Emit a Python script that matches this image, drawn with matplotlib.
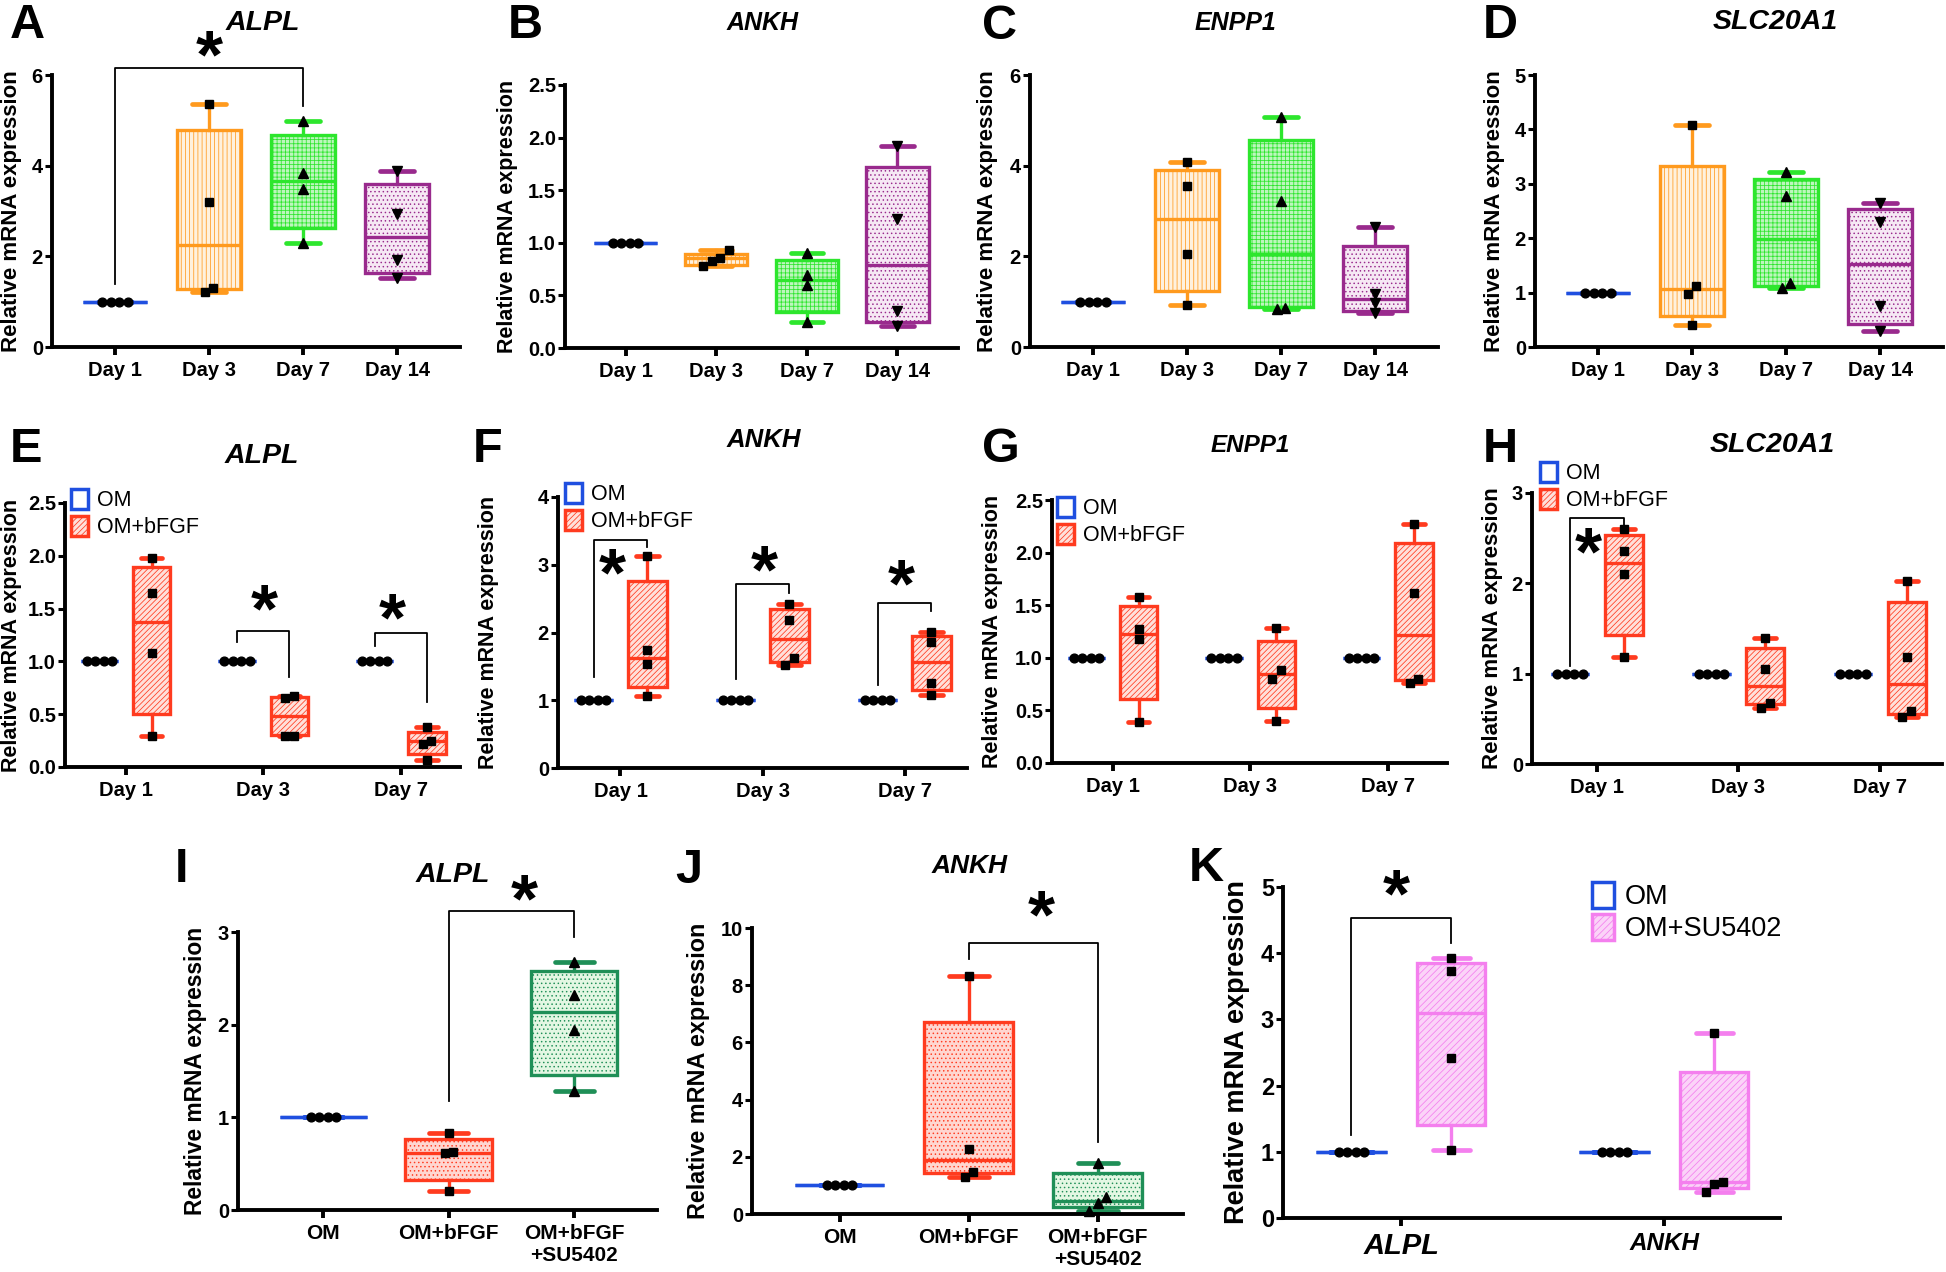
import numpy as np
import matplotlib.pyplot as plt
from matplotlib.patches import Patch

W, H = 1946, 1272

plt.rcParams['font.family'] = ['Liberation Sans', 'DejaVu Sans']
plt.rcParams['hatch.linewidth'] = 0.55

BLUE = '#1f4fe0'
ORANGE = '#ff9a1e'
LIME = '#2de62d'
PURPLE = '#992a8d'
RED = '#ff3b1f'
DKGREEN = '#1f8f57'
PINK = '#f47fee'

# (edge colour, face colour, hatch, marker)
OM_STYLE = (BLUE, 'white', None, 'o')
TC_STYLES = [OM_STYLE,
             (ORANGE, '#fff1de', '||||', 's'),
             (LIME, '#bdf6bd', '++++', '^'),
             (PURPLE, '#f6e8f4', '....', 'v')]
RED_STYLE = (RED, '#ffe0da', '//////', 's')
RED_DOT = (RED, '#ffd6d0', '....', 's')
SU_STYLE = (DKGREEN, '#e3f7e3', '....', '^')
PINK_STYLE = (PINK, '#fbd3f8', '/////', 's')

# ---- data ----
days4 = ['Day 1', 'Day 3', 'Day 7', 'Day 14']
days3 = ['Day 1', 'Day 3', 'Day 7']
treatments = ['OM', 'OM+bFGF', 'OM+bFGF\n+SU5402']
genes = ['ALPL', 'ANKH']

om = [1.0, 1.0, 1.0, 1.0]

# boxes are (q1, median, q3); whiskers run min..max of the points
A_pts = [om, [5.35, 3.20, 1.31, 1.21], [4.99, 3.83, 3.48, 2.30], [3.88, 2.93, 1.93, 1.52]]
A_box = [(1, 1, 1), (1.27, 2.26, 4.79), (2.63, 3.66, 4.68), (1.63, 2.42, 3.59)]
B_pts = [om, [0.93, 0.86, 0.83, 0.78], [0.90, 0.69, 0.60, 0.25], [1.92, 1.23, 0.35, 0.21]]
B_box = [(1, 1, 1), (0.79, 0.86, 0.89), (0.34, 0.65, 0.84), (0.25, 0.79, 1.72)]
C_pts = [om, [4.07, 3.55, 2.06, 0.92], [5.07, 3.22, 0.87, 0.83], [2.65, 1.18, 0.96, 0.74]]
C_box = [(1, 1, 1), (1.24, 2.82, 3.90), (0.88, 2.05, 4.57), (0.80, 1.05, 2.23)]
D_pts = [om, [4.08, 1.12, 0.97, 0.40], [3.22, 2.77, 1.17, 1.09], [2.64, 2.30, 0.75, 0.29]]
D_box = [(1, 1, 1), (0.57, 1.06, 3.33), (1.13, 1.98, 3.09), (0.42, 1.52, 2.53)]

# OM+bFGF per day (OM is 1 at every day)
E_pts = [[1.98, 1.65, 1.08, 0.29], [0.67, 0.65, 0.29, 0.29], [0.38, 0.25, 0.22, 0.07]]
E_box = [(0.50, 1.37, 1.89), (0.30, 0.48, 0.66), (0.126, 0.25, 0.33)]
F_pts = [[3.13, 1.74, 1.54, 1.06], [2.42, 2.19, 1.63, 1.52], [2.01, 1.86, 1.25, 1.08]]
F_box = [(1.20, 1.62, 2.76), (1.57, 1.90, 2.34), (1.15, 1.56, 1.95)]
G_pts = [[1.58, 1.27, 1.18, 0.39], [1.28, 0.88, 0.80, 0.40], [2.27, 1.62, 0.80, 0.76]]
G_box = [(0.61, 1.23, 1.49), (0.52, 0.85, 1.16), (0.785, 1.22, 2.09)]
H_pts = [[2.60, 2.36, 2.10, 1.18], [1.39, 1.05, 0.675, 0.62], [2.03, 1.18, 0.59, 0.52]]
H_box = [(1.43, 2.23, 2.53), (0.66, 0.86, 1.28), (0.55, 0.885, 1.79)]

I_pts = [om, [0.83, 0.63, 0.61, 0.20], [2.68, 2.32, 1.94, 1.28]]
I_box = [(1, 1, 1), (0.32, 0.62, 0.77), (1.46, 2.14, 2.58)]
J_pts = [om, [8.31, 2.28, 1.48, 1.31], [1.77, 0.61, 0.37, 0.12]]
J_box = [(1, 1, 1), (1.42, 1.89, 6.73), (0.26, 0.47, 1.42)]
K_pts = [[3.93, 3.73, 2.42, 1.03], [2.79, 0.55, 0.52, 0.40]]
K_box = [(1.41, 3.09, 3.85), (0.45, 0.55, 2.20)]

# significance: (x left, y left, x right, y right, bracket top, star x, star y)
A_sig = [(0, 1.40, 2, 5.32, 6.15, 1.0, 6.66)]
E_sig = [(0.81, 1.18, 1.19, 0.85, 1.285, 1.01, 1.59),
         (1.81, 1.15, 2.19, 0.615, 1.27, 1.94, 1.50)]
F_sig = [(-0.19, 1.35, 0.19, 3.26, 3.37, -0.06, 3.02),
         (0.81, 1.31, 1.19, 2.59, 2.71, 1.01, 3.07),
         (1.81, 1.23, 2.19, 2.32, 2.44, 1.98, 2.86)]
H_sig = [(-0.19, 1.09, 0.19, 2.64, 2.72, -0.06, 2.45)]
I_sig = [(1, 1.18, 2, 2.95, 3.23, 1.60, 3.46)]
J_sig = [(1, 8.9, 2, 2.53, 9.47, 1.56, 10.8)]
K_sig = [(-0.19, 1.26, 0.19, 4.15, 4.53, -0.02, 5.04)]


fig = plt.figure(figsize=(W / 100, H / 100), dpi=100)


def add_axes(l, t, r, b):
    return fig.add_axes([l / W, 1 - b / H, (r - l) / W, (b - t) / H])


def px_scale(ax):
    pos = ax.get_position()
    x0, x1 = ax.get_xlim()
    y0, y1 = ax.get_ylim()
    return pos.width * W / (x1 - x0), pos.height * H / (y1 - y0)


def spread(ax, x, vals, step=8.5):
    # spread overlapping points sideways like the original plot
    sx, sy = px_scale(ax)
    vals = np.asarray(vals, float)
    order = np.argsort(vals)
    xs = np.full(len(vals), float(x))
    clusters = [[order[0]]]
    for i in order[1:]:
        if (vals[i] - vals[clusters[-1][-1]]) * sy < step:
            clusters[-1].append(i)
        else:
            clusters.append([i])
    for c in clusters:
        n = len(c)
        for k, i in enumerate(c):
            xs[i] = x + (k - (n - 1) / 2) * step / sx
    return xs


def draw_box(ax, x, pts, box, style, width, capfrac, ms=6.3):
    color, face, hatch, marker = style
    stat = dict(whislo=min(pts), q1=box[0], med=box[1], q3=box[2], whishi=max(pts))
    lw = 2.4
    ax.bxp([stat], positions=[x], widths=width, capwidths=width * capfrac,
           patch_artist=True, showfliers=False, manage_ticks=False,
           boxprops=dict(facecolor=face, edgecolor=color, hatch=hatch, linewidth=lw),
           medianprops=dict(color=color, linewidth=lw),
           whiskerprops=dict(color=color, linewidth=lw),
           capprops=dict(color=color, linewidth=lw + 1, solid_capstyle='round'))
    if marker in '^v':
        ms += 0.8
    ax.plot(spread(ax, x, pts), pts, ls='none', marker=marker, color='black',
            ms=ms, zorder=5, clip_on=False)


def setup(ax, ymax, ystep, fmt, xlim, ticks, labels, xfs=14.5, yfs=14.5,
          lab_fs=15.5, lab_gap=30):
    ax.set_xlim(xlim)
    ax.set_ylim(0, ymax)
    ax.spines[['top', 'right']].set_visible(False)
    ax.spines[['left', 'bottom']].set_linewidth(2.8)
    yt = np.arange(0, ymax + ystep / 2, ystep)
    ax.set_yticks(yt, [fmt.format(v) for v in yt], fontsize=yfs, fontweight='bold')
    ax.set_xticks(ticks, labels, fontsize=xfs, fontweight='bold')
    ax.tick_params(axis='y', length=5, width=2.2, pad=1.5)
    ax.tick_params(axis='x', length=6, width=2.8, pad=4)
    ax.set_ylabel('Relative mRNA expression', fontsize=lab_fs, fontweight='bold')
    ax.yaxis.set_label_coords(-lab_gap / (ax.get_position().width * W), 0.5)
    ax.patch.set_alpha(0)


def brackets(ax, sigs, fs=50):
    for xl, yl, xr, yr, top, sx, sy in sigs:
        ax.plot([xl, xl, xr, xr], [yl, top, top, yr], color='black', lw=1.3,
                clip_on=False)
        ax.annotate('*', (sx, sy), xytext=(0, -0.46 * fs), textcoords='offset points',
                    ha='center', va='baseline', fontsize=fs, fontweight='bold',
                    annotation_clip=False)


def legend(labels, styles, left, top, fs=15.5, hl=0.8, hh=1.05, sp=0.2):
    handles = [Patch(facecolor=f, edgecolor=c, hatch=h, linewidth=2.5)
               for c, f, h, m in styles]
    fig.legend(handles, labels, loc='upper left', bbox_to_anchor=(left / W, 1 - top / H),
               frameon=False, fontsize=fs, handlelength=hl, handleheight=hh,
               handletextpad=0.4, labelspacing=sp, borderpad=0, borderaxespad=0)


def time_course(rect, pts, boxes, ymax, ystep, fmt, lab_fs, lab_gap):
    ax = add_axes(*rect)
    setup(ax, ymax, ystep, fmt, (-0.67, 3.67), range(4), days4,
          lab_fs=lab_fs, lab_gap=lab_gap)
    for i, (p, b, st) in enumerate(zip(pts, boxes, TC_STYLES)):
        draw_box(ax, i, p, b, st, 0.69, 0.52)
    return ax


def bfgf_panel(rect, pts, boxes, ymax, ystep, fmt, xlim, lab_fs, lab_gap):
    ax = add_axes(*rect)
    setup(ax, ymax, ystep, fmt, xlim, range(3), days3, lab_fs=lab_fs, lab_gap=lab_gap)
    for d, (p, b) in enumerate(zip(pts, boxes)):
        draw_box(ax, d - 0.19, om, (1, 1, 1), OM_STYLE, 0.27, 0.6)
        draw_box(ax, d + 0.19, p, b, RED_STYLE, 0.27, 0.58)
    return ax


# ---- row 1: time course ----
axA = time_course((52, 75, 460, 347), A_pts, A_box, 6, 2, '{:.0f}', 16, 30)
brackets(axA, A_sig)
time_course((565, 85, 958, 348), B_pts, B_box, 2.5, 0.5, '{:.1f}', 15.5, 47)
time_course((1030, 75, 1438, 347), C_pts, C_box, 6, 2, '{:.0f}', 16, 32)
time_course((1535, 75, 1943, 347), D_pts, D_box, 5, 1, '{:.0f}', 16, 30)

# ---- row 2: OM vs OM+bFGF ----
axE = bfgf_panel((65, 503, 460, 767), E_pts, E_box, 2.5, 0.5, '{:.1f}', (-0.44, 2.43), 15.5, 43)
brackets(axE, E_sig)
axF = bfgf_panel((558, 497, 967, 768), F_pts, F_box, 4, 1, '{:.0f}', (-0.44, 2.44), 15.5, 59)
brackets(axF, F_sig)
bfgf_panel((1052, 500, 1447, 763), G_pts, G_box, 2.5, 0.5, '{:.1f}', (-0.44, 2.43), 15.5, 49)
axH = bfgf_panel((1532, 493, 1942, 764), H_pts, H_box, 3, 1, '{:.0f}', (-0.46, 2.44), 16, 29)
brackets(axH, H_sig)

bfgf_labels = ['OM', 'OM+bFGF']
legend(bfgf_labels, [OM_STYLE, RED_STYLE], 71, 489)
legend(bfgf_labels, [OM_STYLE, RED_STYLE], 565, 483)
legend(bfgf_labels, [OM_STYLE, RED_STYLE], 1057, 497)
legend(bfgf_labels, [OM_STYLE, RED_STYLE], 1540, 462)

# ---- row 3 ----
su_styles = [OM_STYLE, RED_DOT, SU_STYLE]
axI = add_axes(238, 932, 657, 1210)
setup(axI, 3, 1, '{:.0f}', (-0.68, 2.66), range(3), treatments, xfs=15,
      lab_fs=16.4, lab_gap=31)
for i, (p, b, st) in enumerate(zip(I_pts, I_box, su_styles)):
    draw_box(axI, i, p, b, st, 0.69, 0.45)
brackets(axI, I_sig)

axJ = add_axes(752, 928, 1183, 1214)
setup(axJ, 10, 2, '{:.0f}', (-0.68, 2.66), range(3), treatments, xfs=15,
      lab_fs=16.8, lab_gap=42)
for i, (p, b, st) in enumerate(zip(J_pts, J_box, su_styles)):
    draw_box(axJ, i, p, b, st, 0.69, 0.45)
brackets(axJ, J_sig)

axK = add_axes(1283, 887, 1780, 1218)
setup(axK, 5, 1, '{:.0f}', (-0.45, 1.44), range(2), genes, yfs=17,
      lab_fs=19.5, lab_gap=33)
for lbl, fs in zip(axK.get_xticklabels(), [21, 17.5]):
    lbl.set_fontsize(fs)
    lbl.set_fontstyle('italic')
for g, (p, b) in enumerate(zip(K_pts, K_box)):
    draw_box(axK, g - 0.19, om, (1, 1, 1), OM_STYLE, 0.27, 0.6)
    draw_box(axK, g + 0.19, p, b, PINK_STYLE, 0.26, 0.54)
brackets(axK, K_sig)
legend(['OM', 'OM+SU5402'], [OM_STYLE, PINK_STYLE], 1592, 882, fs=19.5, hl=0.8,
       hh=1.1, sp=0.15)

# ---- panel letters and gene titles ----
letters = [('A', 10, 38), ('B', 508, 38), ('C', 982, 39), ('D', 1483, 38),
           ('E', 10, 462), ('F', 473, 462), ('G', 982, 462), ('H', 1483, 462),
           ('I', 175, 882), ('J', 675, 883), ('K', 1189, 881)]
for s, x, y in letters:
    fig.text(x / W, 1 - y / H, s, ha='left', va='baseline', fontsize=35,
             fontweight='bold')

titles = [('ALPL', 263, 30, 20.5), ('ANKH', 763, 30, 18), ('ENPP1', 1235, 30, 18),
          ('SLC20A1', 1775, 29, 20.5), ('ALPL', 262, 463, 20.5), ('ANKH', 764, 447, 18.5),
          ('ENPP1', 1250, 452, 17.5), ('SLC20A1', 1772, 452, 20.5),
          ('ALPL', 453, 882, 20.5), ('ANKH', 970, 873, 19)]
for s, x, y, fs in titles:
    fig.text(x / W, 1 - y / H, s, ha='center', va='baseline', fontsize=fs,
             fontweight='bold', fontstyle='italic')

fig.savefig('out.png', dpi=100, facecolor='white')
